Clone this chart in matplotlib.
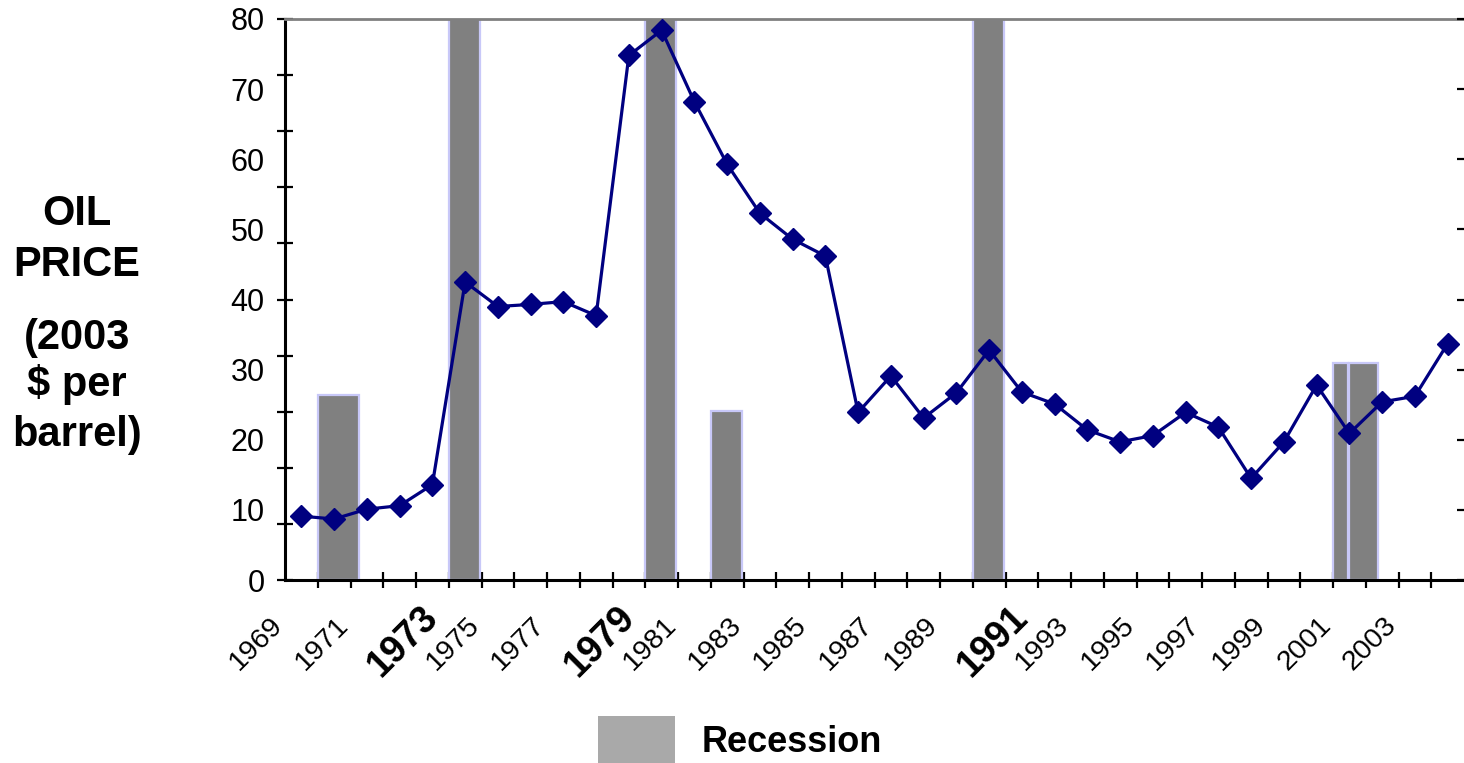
import numpy as np
import matplotlib
matplotlib.use('Agg')
import matplotlib.pyplot as plt
import matplotlib.transforms as mtransforms
from matplotlib.patches import Rectangle

plt.rcParams['font.family'] = ['Liberation Sans', 'DejaVu Sans']

NAVY = '#000080'
BAR_GRAY = '#808080'
BAR_EDGE = '#c8c8f8'

# Oil price, 2003 $ per barrel
years = np.arange(1969, 2005)
oil_price = [9.1, 8.7, 10.1, 10.6, 13.6, 42.5, 39.0, 39.3, 39.7, 37.7,
             74.8, 78.4, 68.2, 59.3, 52.3, 48.6, 46.2, 23.9, 29.1, 23.1,
             26.7, 32.8, 26.8, 25.1, 21.4, 19.7, 20.6, 23.9, 21.8, 14.5,
             19.7, 27.8, 20.9, 25.4, 26.2, 33.7]

# Recession bars (start, end in years; top in price units)
rec_start = [1969.5, 1973.5, 1979.5, 1981.5, 1989.5, 2000.5, 2001.0]
rec_end = [1970.75, 1974.45, 1980.45, 1982.45, 1990.45, 2000.97, 2001.87]
rec_top = [26.4, 80, 80, 24.1, 80, 30.9, 30.9]

label_years = list(range(1969, 2004, 2))
bold_years = [1973, 1979, 1991]

fig = plt.figure(figsize=(14.64, 7.63), dpi=100)
W, H = 1464, 763
ax = fig.add_axes([285 / W, 1 - 580 / H, (W - 285) / W, 561 / H])

widths = [e - s for s, e in zip(rec_start, rec_end)]
ax.bar(rec_start, rec_top, width=widths, align='edge', color=BAR_GRAY,
       edgecolor=BAR_EDGE, linewidth=1.6, zorder=2)
ax.plot(years, oil_price, color=NAVY, lw=2.3, marker='D', ms=11.5,
        mec=NAVY, mew=1, zorder=3, clip_on=False)

ax.set_xlim(1968.5, 2004.5)
ax.set_ylim(0, 80)

for s in ['left', 'bottom']:
    ax.spines[s].set_color('black')
    ax.spines[s].set_linewidth(2.2)
ax.spines['top'].set_color('#808080')
ax.spines['top'].set_linewidth(2)
ax.spines['right'].set_visible(False)

# y axis: labels every 10, tick marks in 10 steps
ax.set_yticks(np.arange(0, 81, 10))
ax.set_yticks(np.linspace(0, 80, 11), minor=True)
ax.yaxis.remove_overlapping_locs = False
ax.tick_params(axis='y', which='major', length=0, pad=14.5, labelsize=22)
ax.tick_params(axis='y', which='minor', direction='inout', length=12, width=1.6)

# x axis
ax.set_xticks(label_years, [str(y) for y in label_years])
ax.set_xticks(np.arange(1969.5, 2004.5, 1), minor=True)
ax.xaxis.remove_overlapping_locs = False
ax.tick_params(axis='x', which='major', length=0, pad=14)
ax.tick_params(axis='x', which='minor', direction='inout', length=11.5, width=1.6)

for lab, yr in zip(ax.get_xticklabels(), label_years):
    lab.set_rotation(45)
    lab.set_ha('right')
    lab.set_va('top')
    if yr in bold_years:
        lab.set_fontsize(27)
        lab.set_fontweight('bold')
        off = mtransforms.ScaledTranslation(13 / 100, 0, fig.dpi_scale_trans)
    else:
        lab.set_fontsize(20.5)
        off = mtransforms.ScaledTranslation(-13 / 100, -13 / 100, fig.dpi_scale_trans)
    lab.set_transform(lab.get_transform() + off)

# right side short ticks
ax2 = ax.twinx()
ax2.set_ylim(0, 80)
ax2.set_yticks(np.arange(0, 81, 10))
ax2.tick_params(axis='y', direction='in', length=5, width=1.6, labelright=False)
for s in ax2.spines.values():
    s.set_visible(False)

# y label block
ylab_lines = ['OIL', 'PRICE', '(2003', '$ per', 'barrel)']
ylab_base = [225, 276, 349, 396, 446]
for txt, yb in zip(ylab_lines, ylab_base):
    fig.text(77 / W, 1 - yb / H, txt, ha='center', va='baseline',
             fontsize=30, fontweight='bold')

# legend
fig.patches.append(Rectangle((598 / W, 0), 77 / W, 47 / H, transform=fig.transFigure,
                             facecolor='#a9a9a9', edgecolor='none'))
fig.text(702 / W, 1 - 742 / H, 'Recession', ha='left', va='center',
         fontsize=26, fontweight='bold')

fig.savefig('out.png', dpi=100)
